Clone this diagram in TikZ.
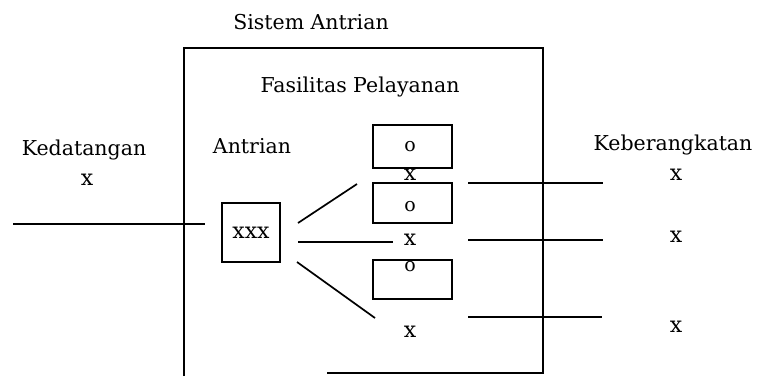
\documentclass[tikz,border=0pt]{standalone}
\usepackage{fontspec}
\setmainfont{DejaVu Serif}
\begin{document}
\begin{tikzpicture}[x=1pt,y=-1pt,line width=1.7pt,
  lbl/.style={inner sep=0pt,anchor=base,font=\fontsize{20.5}{24}\selectfont},
  glyph/.style={inner sep=0pt,font=\fontsize{22}{26}\selectfont},
  ring/.style={inner sep=0pt,font=\fontsize{19}{23}\selectfont},
  srv/.style={draw,inner sep=0pt,minimum width=79pt},
  queuebox/.style={draw,inner sep=0pt,minimum width=58pt,minimum height=59pt,
    font=\fontsize{22}{26}\selectfont}]
\useasboundingbox (0,0) rectangle (760,376);

% system boundary
\coordinate (bl) at (184,376);
\coordinate (tl) at (184,48);
\coordinate (tr) at (543,48);
\coordinate (br) at (543,373);
\coordinate (bm) at (327,373);
\draw (bl) -- (tl) -- (tr) -- (br) -- (bm);

% titles and labels
\node[lbl] (sys)  at (311,29)  {Sistem Antrian};
\node[lbl] (fac)  at (360,92)  {Fasilitas Pelayanan};
\node[lbl] (que)  at (252,153) {Antrian};
\node[lbl] (arr)  at (84,155)  {Kedatangan};
\node[lbl] (dep)  at (673,150) {Keberangkatan};

% queue
\node[queuebox] (q) at (251,232.5) {xxx};

% servers
\node[srv,minimum height=43pt] (s1) at (412.5,146.5) {};
\node[srv,minimum height=40pt] (s2) at (412.5,203) {};
\node[srv,minimum height=39pt] (s3) at (412.5,279.5) {};
\node[ring] (o1) at (410,147) {o};
\node[ring] (o2) at (410,207) {o};
\node[ring] (o3) at (410,267) {o};

% customers
\node[glyph] (xa) at (87,180)  {x};
\node[glyph] (x1) at (410,175) {x};
\node[glyph] (x2) at (410,240) {x};
\node[glyph] (x3) at (410,332) {x};
\node[glyph] (y1) at (676,175) {x};
\node[glyph] (y2) at (676,237) {x};
\node[glyph] (y3) at (676,327) {x};

% flow lines
\coordinate (a0) at (13,224);   \coordinate (a1) at (205,224);
\coordinate (u0) at (298,223);  \coordinate (u1) at (357,184);
\coordinate (m0) at (298,242);  \coordinate (m1) at (393,242);
\coordinate (l0) at (297,262);  \coordinate (l1) at (375,318);
\coordinate (p0) at (468,183);  \coordinate (p1) at (603,183);
\coordinate (r0) at (468,240);  \coordinate (r1) at (603,240);
\coordinate (t0) at (468,317);  \coordinate (t1) at (602,317);
\draw (a0) -- (a1);
\draw (u0) -- (u1);
\draw (m0) -- (m1);
\draw (l0) -- (l1);
\draw (p0) -- (p1);
\draw (r0) -- (r1);
\draw (t0) -- (t1);
\end{tikzpicture}
\end{document}
